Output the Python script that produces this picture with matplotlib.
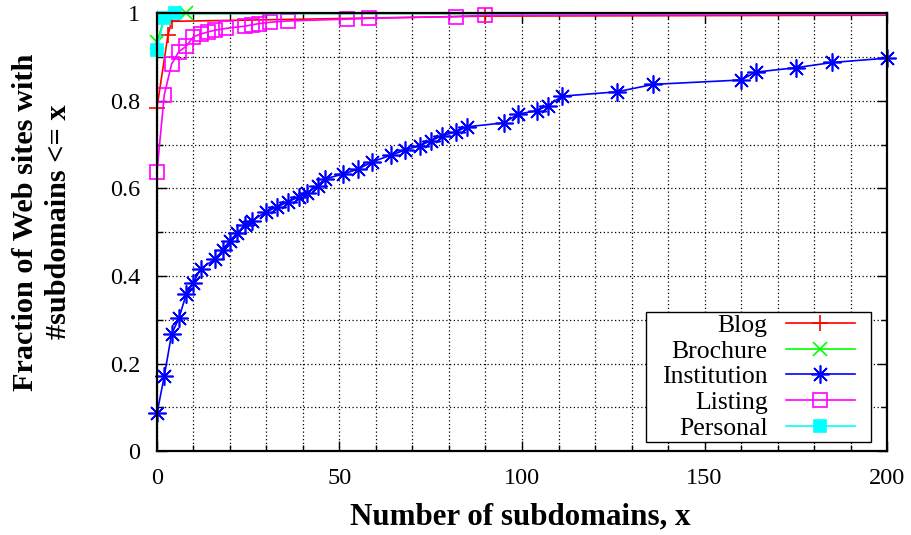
import matplotlib
matplotlib.use('Agg')
import matplotlib.pyplot as plt
from matplotlib.ticker import MultipleLocator, FuncFormatter

# CDF values
blog_x = [0, 3, 4, 90, 200]
blog_y = [0.785, 0.95, 0.982, 0.994, 0.996]

brochure_x = [0, 2, 8, 200]
brochure_y = [0.935, 0.99, 1.0, 1.0]

institution_x = [0, 2, 4, 6, 8, 10, 12, 16, 18, 20, 22, 24, 26, 30, 33, 36, 39, 41,
                 44, 46, 51, 55, 59, 64, 68, 72, 75, 78, 82, 85, 95, 99, 104, 107,
                 111, 126, 136, 160, 164, 175, 185, 200]
institution_y = [0.086, 0.171, 0.267, 0.303, 0.358, 0.385, 0.417, 0.439, 0.459, 0.481,
                 0.498, 0.516, 0.526, 0.547, 0.558, 0.570, 0.581, 0.589, 0.606, 0.622,
                 0.633, 0.644, 0.661, 0.676, 0.688, 0.698, 0.709, 0.720, 0.730, 0.741,
                 0.750, 0.770, 0.778, 0.789, 0.811, 0.821, 0.838, 0.848, 0.866, 0.876,
                 0.888, 0.898]

listing_x = [0, 2, 4, 6, 8, 10, 12, 14, 16, 19, 24, 26, 28, 31, 36, 52, 58, 82, 90, 200]
listing_y = [0.638, 0.814, 0.884, 0.913, 0.925, 0.947, 0.953, 0.958, 0.962, 0.966,
             0.971, 0.974, 0.977, 0.980, 0.983, 0.987, 0.989, 0.993, 0.996, 0.998]

personal_x = [0, 2, 5, 200]
personal_y = [0.917, 0.99, 1.0, 1.0]

plt.rcParams['font.family'] = ['Liberation Serif', 'DejaVu Serif']

fig = plt.figure(figsize=(9.11, 5.35), dpi=100)
ax = fig.add_axes([0.1723, 0.157, 0.8014, 0.8178])

def draw(x, y, color, marker, label, ms, **kw):
    # last point only extends the line to the edge, no marker there
    idx = list(range(len(x) - 1)) if x[-1] == 200 and label != 'Institution' else list(range(len(x)))
    ax.plot(x, y, color=color, marker=marker, markevery=idx, ms=ms, lw=1.2,
            mew=1.2, label=label, clip_on=False, zorder=3, **kw)

draw(blog_x, blog_y, '#ff0000', '+', 'Blog', 12)
draw(brochure_x, brochure_y, '#00ff00', 'x', 'Brochure', 10)
draw(institution_x, institution_y, '#0000ff', (8, 2, 0), 'Institution', 13)
draw(listing_x, listing_y, '#ff00ff', 's', 'Listing', 10, mfc='none')
draw(personal_x, personal_y, '#00ffff', 's', 'Personal', 9)

ax.set_xlim(0, 200)
ax.set_ylim(0, 1)
ax.xaxis.set_major_locator(MultipleLocator(50))
ax.xaxis.set_minor_locator(MultipleLocator(10))
ax.yaxis.set_major_locator(MultipleLocator(0.2))
ax.yaxis.set_minor_locator(MultipleLocator(0.1))
ax.yaxis.set_major_formatter(FuncFormatter(lambda v, p: '%g' % round(v, 2)))
ax.tick_params(which='both', direction='in', top=True, right=True, labelsize=17.5)
ax.tick_params(axis='x', pad=12)
ax.tick_params(axis='y', pad=12)
ax.tick_params(which='major', length=7, width=1)
ax.tick_params(which='minor', length=4, width=1)
ax.grid(which='both', color='black', linestyle=(0, (1, 2)), lw=0.9)
for s in ax.spines.values():
    s.set_linewidth(1.6)
    s.set_zorder(4)

ax.set_xlabel('Number of subdomains, x', fontsize=22.3, fontweight='bold')
ax.xaxis.set_label_coords(0.497, -0.117)
ax.set_ylabel('Fraction of Web sites with\n#subdomains <= x', fontsize=21.8,
              fontweight='bold', linespacing=1.3)
ax.yaxis.set_label_coords(-0.116, 0.523)

leg = ax.legend(loc='lower right', bbox_to_anchor=(0.956, 0.025), borderaxespad=0,
                fontsize=18.5, markerfirst=False, numpoints=1, fancybox=False,
                handlelength=2.7, handletextpad=0.7, labelspacing=0.11,
                borderpad=0, framealpha=1)
frame = leg.get_frame()
frame.set_edgecolor('black')
frame.set_linewidth(1.0)
# wider padding left/right than top/bottom, like the gnuplot key box
frame.set_boxstyle('square', pad=0.62)
frame.set_mutation_aspect(0.13)
leg.set_zorder(5)

fig.savefig('out.png', dpi=100)
